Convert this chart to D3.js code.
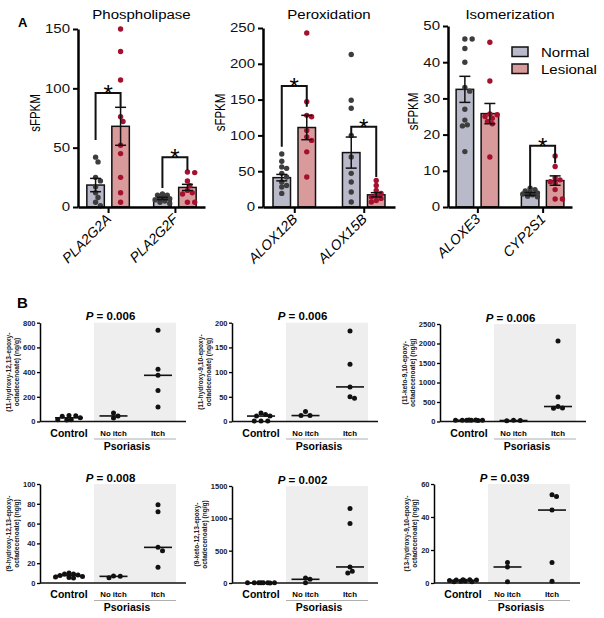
<!DOCTYPE html>
<html><head><meta charset="utf-8">
<script src="https://cdn.jsdelivr.net/npm/d3@7"></script>
<style>body{margin:0;background:#fff}svg{display:block;font-family:"Liberation Sans",Arial,Helvetica,sans-serif}</style>
</head><body><svg id="c" width="604" height="618"></svg>
<script>
// ---------- Panel A data ----------
const aTitles = ["Phospholipase", "Peroxidation", "Isomerization"];
const aGenes = [["PLA2G2A", "PLA2G2F"], ["ALOX12B", "ALOX15B"], ["ALOXE3", "CYP2S1"]];
const aYMax = [150, 250, 50];
const aTickStep = [50, 50, 10];
const normalMean = [[18.5, 7.2], [41, 76], [32.5, 3.6]];
const normalSem = [[5.6, 1.0], [4.5, 21.7], [3.6, 0.4]];
const lesionalMean = [[68, 16.5], [111, 17], [25.8, 7.3]];
const lesionalSem = [[16, 2.6], [17, 3], [2.8, 1.3]];
const normalPts = [
  [[42, 38, 25, 22, 17, 12, 8, 4, 1], [11, 10, 10, 9, 8, 7, 6, 5, 4, 3]],
  [[74, 64, 56, 54, 47, 42, 35, 30, 28, 19], [213, 149, 138, 100, 70, 47, 35, 21, 7]],
  [[46.4, 46.4, 43.8, 40, 33, 32, 27, 24, 22.7, 22.4, 15.3], [5.2, 4.8, 4.4, 4.2, 3.9, 3.6, 3.4, 3.0, 2.8]]
];
const lesionalPts = [
  [[150, 131, 107, 76, 72, 52, 45, 25, 12, 4], [29.5, 29, 22, 18, 14, 12, 11, 4, 4]],
  [[243, 147, 128, 126, 107, 98, 93, 77, 42], [37, 30, 23, 19, 16, 14, 12, 9, 7]],
  [[45.5, 34.8, 25.7, 25.5, 25, 24.5, 23.6, 23, 13.8], [14.1, 11.2, 8, 7.5, 7, 6.6, 4.8, 2.2, 2.2]]
];
// bracket: [top, left leg bottom, right leg bottom] per gene (null = none)
const aBrackets = [[[96, 56.5, 84], [42, 16, 31]], [[169, 84, 140], [112, 99, 42]], [null, [16.9, 5, 12.1]]];
const legendLabels = ["Normal", "Lesional"];

// ---------- Panel B data ----------
const bGroups = ["Control", "No itch", "Itch"];
const bPValues = ["0.006", "0.006", "0.006", "0.008", "0.002", "0.039"];
const bYLabels = [
  ["(11-hydroxy-12,13-epoxy-", "octadecenoate) (ng/g)"],
  ["(11-hydroxy-9,10-epoxy-", "octadecenoate) (ng/g)"],
  ["(11-keto-9,10-epoxy-", "octadecenoate) (ng/g)"],
  ["(9-hydroxy-12,13-epoxy-", "octadecenoate) (ng/g)"],
  ["(9-keto-12,13-epoxy-", "octadecenoate) (ng/g)"],
  ["(13-hydroxy-9,10-epoxy-", "octadecenoate) (ng/g)"]
];
const bYMax = [800, 200, 2500, 100, 1500, 60];
const bTickStep = [200, 50, 500, 20, 500, 20];
const bControl = [
  [48, 46, 15, 12, 14, 30, 42],
  [11, 17, 14, 11, 1, 1, 1],
  [35, 30, 38, 28, 32, 36, 30, 34],
  [10, 9, 7.5, 6, 5, 5.5, 6.5, 8, 9],
  [3, 2, 4, 1, 2, 3, 5, 2],
  [2.0, 1.8, 1.2, 0.8, 0.8, 1.0, 1.5, 1.8, 2.0]
];
const bNoItch = [[68, 28, 45], [20, 12, 12], [30, 25, 20], [7, 5.4, 6.7], [78, 57, 5], [12.5, 9.7, 0.8]];
const bItch = [
  [738, 423, 374, 252, 117],
  [183, 116, 70, 50, 47],
  [2064, 631, 384, 345, 340],
  [79, 72, 36, 32.6, 16],
  [1153, 920, 248, 155, 181],
  [53.5, 52.5, 44.2, 12.5, 1.0]
];

// ---------- helpers ----------
const svg = d3.select("#c");
const S = 1.25; // horizontal text stretch seen in panel A
const colNormal = "#b9bac9", colLesional = "#d99a9c";
const dotNormal = "#3d3d3d", dotLesional = "#a3112f";

function swarm(values, y, cx, r, maxHalf) {
  const order = values.map((v, i) => ({ v, i })).sort((a, b) => b.v - a.v);
  const placed = [];
  const out = new Array(values.length);
  const step = r * 0.9;
  for (const d of order) {
    const py = y(d.v);
    let chosen = null, bestOff = 0, bestDist = -1;
    for (let k = 0; k < 40; k++) {
      const off = (k % 2 === 1 ? 1 : -1) * Math.ceil(k / 2) * step;
      if (Math.abs(off) > maxHalf) continue;
      let minD = Infinity;
      for (const p of placed) minD = Math.min(minD, Math.hypot(p.x - (cx + off), p.y - py));
      if (minD >= 2 * r * 0.92) { chosen = off; break; }
      if (minD > bestDist) { bestDist = minD; bestOff = off; }
    }
    if (chosen === null) chosen = bestOff;
    const p = { x: cx + chosen, y: py };
    placed.push(p);
    out[d.i] = p;
  }
  return out;
}
function stretch(sel) {
  sel.each(function () {
    const t = d3.select(this);
    const x = +t.attr("x") || 0;
    t.attr("x", x / S).attr("transform", `scale(${S},1)`);
  });
}

// ---------- Panel A ----------
const aLay = [
  { x0: 78, x1: 205, top: 29, bot: 207 },
  { x0: 263, x1: 395, top: 28, bot: 207 },
  { x0: 448, x1: 572, top: 26, bot: 207 }
];
svg.append("text").attr("x", 18).attr("y", 27).attr("font-size", 13).attr("font-weight", "bold").text("A");

aTitles.forEach((title, p) => {
  const L = aLay[p];
  const g = svg.append("g");
  const y = d3.scaleLinear().domain([0, aYMax[p]]).range([L.bot, L.top]);
  const x = d3.scalePoint().domain(aGenes[p]).range([L.x0, L.x1]).padding(0.45);
  const bw = 17.5, off = 12.5;

  g.append("text").attr("x", (L.x0 + L.x1) / 2 / S).attr("y", 19).attr("transform", `scale(${S},1)`)
    .attr("text-anchor", "middle").attr("font-size", 12).text(title);

  aGenes[p].forEach((gene, j) => {
    const cx = x(gene);
    const groups = [
      { c: cx - off, m: normalMean[p][j], s: normalSem[p][j], fill: colNormal, pts: normalPts[p][j], dot: dotNormal },
      { c: cx + off, m: lesionalMean[p][j], s: lesionalSem[p][j], fill: colLesional, pts: lesionalPts[p][j], dot: dotLesional }
    ];
    groups.forEach(G => {
      g.append("rect").attr("x", G.c - bw / 2).attr("width", bw)
        .attr("y", y(G.m)).attr("height", y(0) - y(G.m))
        .attr("fill", G.fill).attr("stroke", "#111").attr("stroke-width", 1.5);
    });
    groups.forEach(G => {
      const pos = swarm(G.pts, y, G.c, 2.7, 8);
      g.selectAll(null).data(pos).join("circle")
        .attr("cx", d => d.x).attr("cy", d => d.y).attr("r", 2.7).attr("fill", G.dot);
    });
    groups.forEach(G => {
      const e = g.append("g").attr("stroke", "#111").attr("stroke-width", 1.5);
      e.append("line").attr("x1", G.c).attr("x2", G.c).attr("y1", y(G.m + G.s)).attr("y2", y(G.m - G.s));
      e.append("line").attr("x1", G.c - 5.5).attr("x2", G.c + 5.5).attr("y1", y(G.m + G.s)).attr("y2", y(G.m + G.s));
      e.append("line").attr("x1", G.c - 5.5).attr("x2", G.c + 5.5).attr("y1", y(G.m - G.s)).attr("y2", y(G.m - G.s));
    });
    const br = aBrackets[p][j];
    if (br) {
      const xl = cx - off, xr = cx + off;
      g.append("path").attr("fill", "none").attr("stroke", "#111").attr("stroke-width", 2)
        .attr("d", `M${xl},${y(br[1])}V${y(br[0])}H${xr}V${y(br[2])}`);
      g.append("text").attr("x", cx).attr("y", y(br[0]) + 9)
        .attr("text-anchor", "middle").attr("font-size", 24).text("*");
    }
    g.append("text").attr("transform", `translate(${cx + 4},${L.bot + 13}) rotate(-45)`)
      .attr("text-anchor", "end").attr("font-size", 14).attr("font-style", "italic").text(gene);
  });

  const ya = g.append("g").attr("transform", `translate(${L.x0},0)`)
    .call(d3.axisLeft(y).tickValues(d3.range(0, aYMax[p] + 0.001, aTickStep[p])).tickSize(5).tickSizeOuter(0).tickPadding(3));
  ya.select(".domain").attr("stroke-width", 2.5);
  ya.selectAll(".tick line").attr("stroke-width", 2);
  ya.selectAll(".tick text").attr("font-size", 12).attr("font-family", null).attr("fill", "#111").call(stretch);
  const xa = g.append("g").attr("transform", `translate(0,${L.bot})`)
    .call(d3.axisBottom(x).tickSize(6).tickSizeOuter(0).tickFormat(""));
  xa.select(".domain").attr("stroke-width", 2.5);
  xa.selectAll(".tick line").attr("stroke-width", 2);

  const bb = ya.node().getBBox();
  g.append("text").attr("transform", `translate(${L.x0 + bb.x - 5},${(L.top + L.bot) / 2 - 5}) scale(${S},1) rotate(-90)`)
    .attr("text-anchor", "middle").attr("font-size", 11.5).text("sFPKM");

  if (p === 2) {
    const fills = [colNormal, colLesional];
    legendLabels.forEach((lab, k) => {
      const yy = 47 + k * 17;
      g.append("rect").attr("x", 512).attr("y", yy).attr("width", 16).attr("height", 9.5)
        .attr("fill", fills[k]).attr("stroke", "#111").attr("stroke-width", 1.5);
      g.append("text").attr("x", 541 / S).attr("y", yy + 10).attr("transform", `scale(${S},1)`)
        .attr("font-size", 12).text(lab);
    });
  }
});

// ---------- Panel B ----------
const bLay = [
  { ax: 40, top: 322.7, bot: 421.5 },
  { ax: 232, top: 322.7, bot: 421.5 },
  { ax: 440, top: 324, bot: 421.5 },
  { ax: 40, top: 484, bot: 583 },
  { ax: 232, top: 486, bot: 583 },
  { ax: 434, top: 484, bot: 583 }
];
svg.append("text").attr("x", 17).attr("y", 308).attr("font-size", 15).attr("font-weight", "bold").text("B");

bPValues.forEach((pv, i) => {
  const L = bLay[i];
  const g = svg.append("g");
  const y = d3.scaleLinear().domain([0, bYMax[i]]).range([L.bot, L.top]);
  const x = d3.scalePoint().domain(bGroups).range([L.ax + 29, L.ax + 118]);
  const sL = x("Control") + 25, sR = x("Itch") + 18;
  g.append("rect").attr("x", sL).attr("y", L.top).attr("width", sR - sL).attr("height", L.bot - L.top).attr("fill", "#eeeeee");

  const ya = g.append("g").attr("transform", `translate(${L.ax},0)`)
    .call(d3.axisLeft(y).tickValues(d3.range(0, bYMax[i] + 0.001, bTickStep[i])).tickFormat(d3.format("d"))
      .tickSize(3).tickSizeOuter(0).tickPadding(1.5));
  ya.select(".domain").attr("stroke-width", 1.5);
  ya.selectAll(".tick line").attr("stroke-width", 1.3);
  ya.selectAll(".tick text").attr("font-size", 7.5).attr("font-weight", "bold").attr("font-family", null).attr("fill", "#222");
  const bb = ya.node().getBBox();
  const lx = L.ax + bb.x;
  bYLabels[i].forEach((t, k) => {
    g.append("text").attr("transform", `translate(${lx - 12 + k * 7.8},${(L.top + L.bot) / 2}) rotate(-90)`)
      .attr("text-anchor", "middle").attr("font-size", 6.6).attr("font-weight", "bold").attr("fill", "#222").text(t);
  });

  g.append("line").attr("x1", L.ax).attr("x2", x("Itch") + 28).attr("y1", L.bot).attr("y2", L.bot)
    .attr("stroke", "#111").attr("stroke-width", 1.5);

  const sets = [bControl[i], bNoItch[i], bItch[i]];
  sets.forEach((vals, k) => {
    const cx = x(bGroups[k]);
    const med = d3.median(vals);
    const pos = swarm(vals, y, cx, 2.5, 14);
    g.selectAll(null).data(pos).join("circle")
      .attr("cx", d => d.x).attr("cy", d => d.y).attr("r", 2.5).attr("fill", "#111");
    g.append("line").attr("x1", cx - 14).attr("x2", cx + 14).attr("y1", y(med)).attr("y2", y(med))
      .attr("stroke", "#111").attr("stroke-width", 1.6);
  });

  g.append("text").attr("x", x("Control")).attr("y", L.bot + 15).attr("text-anchor", "middle")
    .attr("font-size", 10.5).attr("font-weight", "bold").text("Control");
  ["No itch", "Itch"].forEach(n => {
    g.append("text").attr("x", x(n)).attr("y", L.bot + 14).attr("text-anchor", "middle")
      .attr("font-size", 7.8).attr("font-weight", "bold").text(n);
  });
  g.append("line").attr("x1", sL).attr("x2", sR).attr("y1", L.bot + 17.5).attr("y2", L.bot + 17.5)
    .attr("stroke", "#999").attr("stroke-width", 0.8);
  g.append("text").attr("x", (sL + sR) / 2 - 8).attr("y", L.bot + 28).attr("text-anchor", "middle")
    .attr("font-size", 10.5).attr("font-weight", "bold").text("Psoriasis");

  const t = g.append("text").attr("x", x("No itch") - 3).attr("y", L.top - 2.5).attr("text-anchor", "middle")
    .attr("font-size", 11.5).attr("font-weight", "bold");
  t.append("tspan").attr("font-style", "italic").text("P");
  t.append("tspan").text(" = " + pv);
});
</script></body></html>
